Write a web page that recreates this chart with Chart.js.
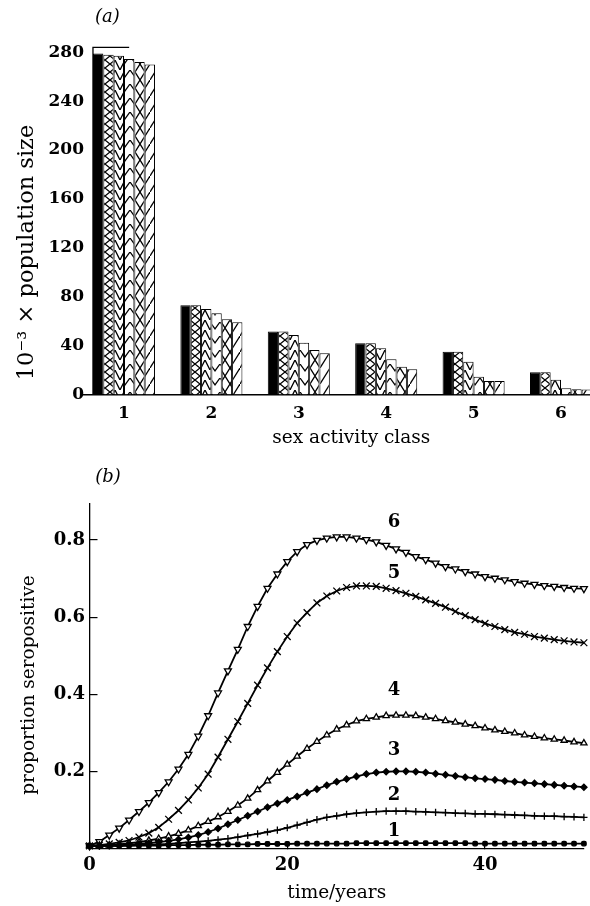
<!DOCTYPE html>
<html>
<head>
<meta charset="utf-8">
<title>Sex activity classes and seroprevalence</title>
<script src="https://cdn.jsdelivr.net/npm/chart.js@4.4.1/dist/chart.umd.min.js"></script>
<style>
  html, body { margin: 0; padding: 0; background: #fff; }
  body { width: 590px; height: 906px; overflow: hidden; }
  .panel { position: relative; width: 590px; overflow: hidden; }
  #panelA { height: 452px; }
  #panelB { height: 454px; }
  canvas { display: block; }
</style>
</head>
<body>
<div class="panel" id="panelA"><canvas id="popChart" width="612" height="452"></canvas></div>
<div class="panel" id="panelB"><canvas id="seroChart" width="590" height="454"></canvas></div>
<script>
const SERIF = "'DejaVu Serif', 'Liberation Serif', serif";

// (a) population size (thousands) in each sex activity class, six bar series
const activityClasses = ['1', '2', '3', '4', '5', '6'];
const popSeries1 = [279, 73, 51.5, 42, 35, 18.2];
const popSeries2 = [278, 73, 51.5, 42, 35, 18.2];
const popSeries3 = [277, 70, 48.7, 37.8, 26.8, 12];
const popSeries4 = [274.5, 66.4, 42.4, 28.8, 14.6, 5.1];
const popSeries5 = [272, 61.5, 36.4, 22.7, 11, 4.3];
const popSeries6 = [270, 59, 33.7, 20.6, 11, 4.1];
const popTicks = [0, 40, 80, 120, 160, 200, 240, 280];

// (b) proportion seropositive in each class, one value per year
const years = [0, 1, 2, 3, 4, 5, 6, 7, 8, 9, 10, 11, 12, 13, 14, 15, 16, 17, 18, 19, 20,
  21, 22, 23, 24, 25, 26, 27, 28, 29, 30, 31, 32, 33, 34, 35, 36, 37, 38, 39, 40,
  41, 42, 43, 44, 45, 46, 47, 48, 49, 50];
const seroClass1 = [0.008, 0.008, 0.008, 0.008, 0.009, 0.009, 0.009, 0.009, 0.010, 0.010,
  0.010, 0.011, 0.011, 0.011, 0.012, 0.012, 0.012, 0.013, 0.013, 0.013,
  0.013, 0.014, 0.014, 0.014, 0.014, 0.014, 0.014, 0.015, 0.015, 0.015,
  0.015, 0.015, 0.015, 0.015, 0.015, 0.015, 0.015, 0.015, 0.015, 0.014,
  0.014, 0.014, 0.014, 0.014, 0.014, 0.014, 0.014, 0.014, 0.014, 0.014, 0.014];
const seroClass2 = [0.008, 0.008, 0.008, 0.009, 0.009, 0.010, 0.011, 0.012, 0.013, 0.015,
  0.017, 0.019, 0.021, 0.024, 0.027, 0.031, 0.035, 0.039, 0.044, 0.049,
  0.055, 0.062, 0.069, 0.076, 0.082, 0.086, 0.090, 0.093, 0.095, 0.097,
  0.098, 0.098, 0.098, 0.097, 0.096, 0.095, 0.094, 0.093, 0.092, 0.091,
  0.091, 0.090, 0.089, 0.088, 0.087, 0.086, 0.085, 0.085, 0.084, 0.083, 0.082];
const seroClass3 = [0.008, 0.008, 0.009, 0.010, 0.011, 0.013, 0.015, 0.018, 0.021, 0.025,
  0.030, 0.036, 0.044, 0.053, 0.064, 0.075, 0.086, 0.097, 0.108, 0.118,
  0.127, 0.136, 0.146, 0.155, 0.165, 0.174, 0.181, 0.188, 0.194, 0.198,
  0.200, 0.201, 0.201, 0.200, 0.198, 0.195, 0.192, 0.189, 0.186, 0.183,
  0.181, 0.179, 0.176, 0.174, 0.172, 0.170, 0.168, 0.166, 0.164, 0.162, 0.160];
const seroClass4 = [0.008, 0.009, 0.010, 0.012, 0.015, 0.018, 0.022, 0.027, 0.033, 0.040,
  0.049, 0.060, 0.071, 0.083, 0.097, 0.113, 0.131, 0.153, 0.176, 0.198,
  0.219, 0.240, 0.260, 0.278, 0.295, 0.310, 0.321, 0.331, 0.337, 0.341,
  0.345, 0.346, 0.346, 0.345, 0.341, 0.337, 0.332, 0.328, 0.323, 0.319,
  0.313, 0.308, 0.304, 0.300, 0.295, 0.291, 0.287, 0.284, 0.281, 0.277, 0.274];
const seroClass5 = [0.008, 0.010, 0.013, 0.017, 0.022, 0.031, 0.041, 0.056, 0.077, 0.100,
  0.127, 0.158, 0.194, 0.238, 0.284, 0.330, 0.377, 0.424, 0.469, 0.511,
  0.550, 0.585, 0.612, 0.637, 0.655, 0.668, 0.677, 0.681, 0.681, 0.680,
  0.675, 0.669, 0.662, 0.654, 0.645, 0.636, 0.626, 0.615, 0.604, 0.594,
  0.584, 0.576, 0.568, 0.561, 0.556, 0.550, 0.546, 0.542, 0.539, 0.536, 0.534];
const seroClass6 = [0.008, 0.019, 0.036, 0.054, 0.075, 0.097, 0.120, 0.146, 0.174, 0.207,
  0.245, 0.292, 0.345, 0.404, 0.461, 0.517, 0.576, 0.628, 0.675, 0.712,
  0.744, 0.770, 0.788, 0.799, 0.805, 0.808, 0.808, 0.805, 0.801, 0.795,
  0.786, 0.777, 0.768, 0.757, 0.749, 0.740, 0.731, 0.725, 0.718, 0.712,
  0.705, 0.701, 0.697, 0.692, 0.688, 0.685, 0.682, 0.680, 0.677, 0.675, 0.674];
const yearTicks = [0, 20, 40];
const seroTicks = [0.2, 0.4, 0.6, 0.8];

const tickFontA = { family: SERIF, size: 17, weight: 'bold' };
const tickFontB = { family: SERIF, size: 18, weight: 'bold' };
const titleFont = { family: SERIF, size: 18.5 };

// black-on-white hatch tiles for the bar fills
function hatch(ctx, w, h, path) {
  const tile = document.createElement('canvas');
  tile.width = w; tile.height = h;
  const g = tile.getContext('2d');
  g.fillStyle = '#fff';
  g.fillRect(0, 0, w, h);
  g.strokeStyle = '#000';
  g.lineWidth = 1.3;
  g.beginPath();
  path(g, w, h);
  g.stroke();
  return ctx.createPattern(tile, 'repeat');
}

// small italic tag drawn above a panel
const panelTag = {
  id: 'panelTag',
  afterDraw(chart, args, opts) {
    const c = chart.ctx;
    c.save();
    c.font = 'italic 18px ' + SERIF;
    c.fillStyle = '#000';
    c.textAlign = 'center';
    c.textBaseline = 'middle';
    c.fillText(opts.text, chart.chartArea.left + opts.dx, chart.chartArea.top + opts.dy);
    c.restore();
  }
};

// bracket at the top of the population axis
const capLine = {
  id: 'capLine',
  afterDatasetsDraw(chart) {
    const first = chart.getDatasetMeta(0).data[0];
    const fourth = chart.getDatasetMeta(3).data[0];
    const y = chart.scales.y;
    const x0 = first.x - first.width / 2;
    const c = chart.ctx;
    c.save();
    c.strokeStyle = '#000';
    c.lineWidth = 1.3;
    c.beginPath();
    c.moveTo(x0, y.bottom);
    c.lineTo(x0, y.top);
    c.lineTo(fourth.x, y.top);
    c.stroke();
    c.restore();
  }
};

// class number written above each curve
const curveTags = {
  id: 'curveTags',
  afterDatasetsDraw(chart, args, opts) {
    const c = chart.ctx;
    c.save();
    c.font = 'bold 18px ' + SERIF;
    c.fillStyle = '#000';
    c.textAlign = 'center';
    c.textBaseline = 'middle';
    chart.data.datasets.forEach((ds, i) => {
      const pt = chart.getDatasetMeta(i).data[opts.index];
      c.fillText(ds.label, pt.x - 2, pt.y - opts.lift[i]);
    });
    c.restore();
  }
};

// ---- (a) bar chart
const ctxA = document.getElementById('popChart').getContext('2d');
const barFills = [
  '#000',
  hatch(ctxA, 10, 8, (g, w, h) => { g.moveTo(0, 0); g.lineTo(w, h); g.moveTo(w, 0); g.lineTo(0, h); }),
  hatch(ctxA, 10, 10, (g, w, h) => { g.moveTo(0, h); g.lineTo(w / 2, 0); g.lineTo(w, h); }),
  hatch(ctxA, 10, 14, (g, w, h) => { g.moveTo(0, 0); g.lineTo(w / 2, h / 2); g.lineTo(w, 0); }),
  hatch(ctxA, 10, 16, (g, w, h) => { g.moveTo(0, 0); g.lineTo(w, h); g.moveTo(w, 0); g.lineTo(0, h); }),
  hatch(ctxA, 10, 16, (g, w, h) => { g.moveTo(0, h); g.lineTo(w, 0); })
];
const popSeries = [popSeries1, popSeries2, popSeries3, popSeries4, popSeries5, popSeries6];

new Chart(ctxA, {
  type: 'bar',
  data: {
    labels: activityClasses,
    datasets: popSeries.map((d, i) => ({
      data: d,
      backgroundColor: barFills[i],
      borderColor: '#000',
      borderWidth: 1,
      categoryPercentage: 0.71,
      barPercentage: 1
    }))
  },
  options: {
    responsive: false,
    animation: false,
    devicePixelRatio: 1,
    layout: { padding: { top: 47.3, right: 7.3, left: 0, bottom: 0 } },
    plugins: {
      legend: { display: false },
      tooltip: { enabled: false },
      panelTag: { text: '(a)', dx: 27, dy: -30 }
    },
    scales: {
      x: {
        grid: { display: false, drawTicks: false },
        border: { color: '#000', width: 1.5 },
        ticks: { font: tickFontA, color: '#000', padding: 8.6 },
        title: { display: true, text: '   sex activity class', font: titleFont, color: '#000', padding: { top: 0, bottom: 2.6 } },
        afterFit: s => { s.height = 57.5; }
      },
      y: {
        min: 0,
        max: 284,
        afterBuildTicks: s => { s.ticks = popTicks.map(v => ({ value: v })); },
        grid: { display: false, drawTicks: false },
        border: { display: false },
        ticks: { font: tickFontA, color: '#000', mirror: true, crossAlign: 'far', padding: -31.8 },
        title: { display: true, text: '  10⁻³ × population size', align: 'start', font: { family: SERIF, size: 22.5 }, color: '#000', padding: { top: 14, bottom: 0 } },
        afterFit: s => { s.width = 80.3; }
      }
    }
  },
  plugins: [panelTag, capLine]
});

// ---- (b) seroprevalence curves
const ctxB = document.getElementById('seroChart').getContext('2d');
const seroSeries = [seroClass1, seroClass2, seroClass3, seroClass4, seroClass5, seroClass6];
const markers = [
  { style: 'rectRounded', radius: 2.6, fill: '#000', rot: 0 },
  { style: 'cross', radius: 3.6, fill: '#000', rot: 0 },
  { style: 'rectRot', radius: 3.1, fill: '#000', rot: 0 },
  { style: 'triangle', radius: 3.6, fill: '#fff', rot: 0 },
  { style: 'crossRot', radius: 4.8, fill: '#000', rot: 0 },
  { style: 'triangle', radius: 4, fill: '#fff', rot: 180 }
];

new Chart(ctxB, {
  type: 'line',
  data: {
    datasets: seroSeries.map((d, i) => ({
      label: activityClasses[i],
      data: d.map((v, k) => ({ x: years[k], y: v })),
      showLine: true,
      borderColor: '#000',
      borderWidth: 1.8,
      tension: 0,
      pointStyle: markers[i].style,
      pointRadius: markers[i].radius,
      pointRotation: markers[i].rot,
      pointBackgroundColor: markers[i].fill,
      pointBorderColor: '#000',
      pointBorderWidth: 1.3,
      clip: false
    }))
  },
  options: {
    responsive: false,
    animation: false,
    devicePixelRatio: 1,
    layout: { padding: { top: 51.3, right: 1.5, left: 0, bottom: 0 } },
    plugins: {
      legend: { display: false },
      tooltip: { enabled: false },
      panelTag: { text: '(b)', dx: 18.5, dy: -26 },
      curveTags: { index: 31, lift: [11.5, 16, 21, 25, 17.5, 27] }
    },
    scales: {
      x: {
        type: 'linear',
        min: 0,
        max: 50,
        afterBuildTicks: s => { s.ticks = yearTicks.map(v => ({ value: v })); },
        grid: { drawOnChartArea: false, drawTicks: true, tickLength: -8, color: '#000', lineWidth: 1.2 },
        border: { color: '#000', width: 1.3 },
        ticks: { font: tickFontB, color: '#000', padding: 13.9 },
        title: { display: true, text: 'time/years', font: titleFont, color: '#000', padding: { top: 0, bottom: 1.6 } },
        afterFit: s => { s.height = 57; }
      },
      y: {
        min: 0,
        max: 0.895,
        afterBuildTicks: s => { s.ticks = seroTicks.map(v => ({ value: v })); },
        grid: { drawOnChartArea: false, drawTicks: true, tickLength: -8, color: '#000', lineWidth: 1.2 },
        border: { color: '#000', width: 1.3 },
        ticks: { font: tickFontB, color: '#000', padding: 12.5, callback: v => v.toFixed(1) },
        title: { display: true, text: 'proportion seropositive   ', font: titleFont, color: '#000', padding: { top: 17.6, bottom: 0 } },
        afterFit: s => { s.width = 89.5; }
      }
    }
  },
  plugins: [panelTag, curveTags]
});
</script>
</body>
</html>
